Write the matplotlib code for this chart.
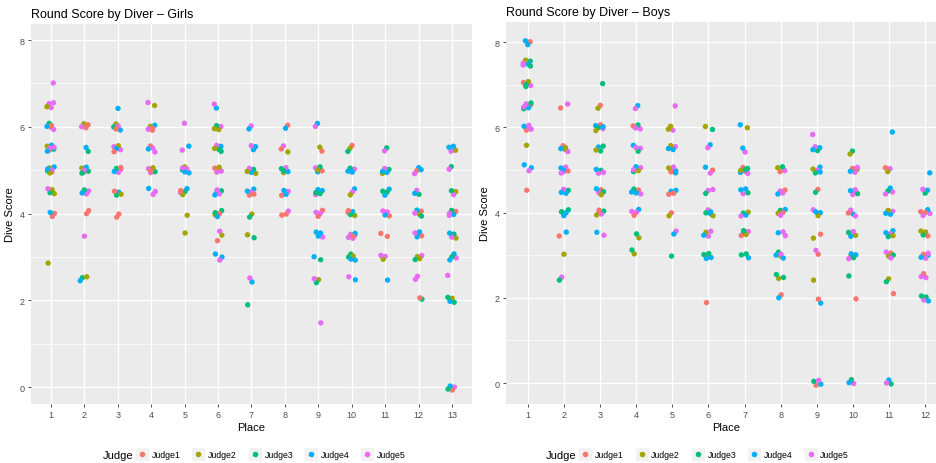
import matplotlib
matplotlib.use("Agg")
import matplotlib.pyplot as plt
from matplotlib.lines import Line2D

plt.rcParams['font.family'] = ['Liberation Sans', 'DejaVu Sans']

judges = ["Judge1", "Judge2", "Judge3", "Judge4", "Judge5"]
judge_colors = ["#F8766D", "#A3A500", "#00BF7D", "#00B0F6", "#E76BF3"]

# place -> list of (score, judges who gave that score)
girls = {
    1: [(7.0, "5"), (6.5, "5525"), (6.0, "13451"), (5.5, "1234545"), (5.0, "1234524"),
        (4.5, "2235"), (4.0, "114"), (2.9, "2")],
    2: [(6.0, "1125"), (5.5, "34"), (5.0, "123453"), (4.5, "5534"), (4.0, "11"),
        (3.55, "5"), (2.5, "342")],
    3: [(6.45, "4"), (6.0, "23451"), (5.5, "55241"), (5.0, "55341"), (4.5, "4312"), (3.95, "11")],
    4: [(6.5, "52"), (6.0, "12541"), (5.5, "1455"), (5.0, "55321"), (4.5, "455")],
    5: [(6.05, "5"), (5.5, "54"), (5.0, "1234545"), (4.5, "54321"), (4.0, "2"), (3.5, "2")],
    6: [(6.45, "45"), (6.0, "5232"), (5.5, "43523"), (5.0, "15152"), (4.5, "44355"),
        (4.0, "23143"), (3.55, "25"), (3.4, "1"), (3.0, "445")],
    7: [(6.0, "54"), (5.5, "445"), (5.0, "123452"), (4.5, "45141"), (3.95, "23"),
        (3.45, "23"), (2.5, "45"), (1.95, "3")],
    8: [(6.0, "14"), (5.5, "512"), (5.0, "123453"), (4.5, "1544"), (4.0, "151")],
    9: [(6.0, "45"), (5.5, "12"), (5.0, "45132"), (4.5, "54343"), (4.0, "1515"),
        (3.5, "5444"), (3.0, "43"), (2.45, "235"), (1.5, "5")],
    10: [(5.5, "123"), (5.0, "5434"), (4.5, "452"), (4.0, "12431"), (3.5, "555541"),
         (3.0, "33424"), (2.5, "54")],
    11: [(5.45, "35"), (5.0, "23454"), (4.5, "4343"), (4.0, "1545"), (3.55, "11"),
         (3.0, "525"), (2.5, "4")],
    12: [(5.0, "4154"), (4.5, "354"), (4.0, "12453"), (3.5, "34514"), (3.0, "2352"),
         (2.5, "55"), (1.95, "3"), (2.05, "1")],
    13: [(5.5, "5424"), (5.1, "3"), (4.95, "5"), (4.5, "253"), (4.0, "51435"),
         (3.5, "2354"), (3.0, "5434"), (2.55, "5"), (2.0, "3243"), (0.0, "5143")],
}

boys = {
    1: [(8.0, "144"), (7.5, "534253"), (7.0, "231523"), (6.5, "314553"), (6.0, "51455"),
        (5.6, "2"), (5.05, "445"), (4.5, "1")],
    2: [(6.5, "15"), (5.5, "21452"), (5.0, "541545"), (4.5, "3454"), (4.0, "3443"),
        (3.5, "14"), (3.05, "2"), (2.42, "53")],
    3: [(7.1, "3"), (6.5, "12"), (6.0, "451324"), (5.5, "3423"), (5.0, "3545"),
        (4.5, "15432"), (4.0, "12351"), (3.55, "45")],
    4: [(6.5, "45"), (6.0, "1535"), (5.5, "4535"), (5.0, "35245"), (4.5, "51434"),
        (4.0, "4515"), (3.45, "23"), (3.05, "23")],
    5: [(6.5, "5"), (6.0, "522"), (5.5, "5424"), (5.0, "451245"), (4.5, "4141"),
        (3.95, "12"), (3.5, "54"), (3.05, "3")],
    6: [(6.0, "23"), (5.55, "45"), (5.0, "415"), (4.5, "535"), (4.0, "45324"),
        (3.5, "5245"), (3.0, "14343"), (1.92, "1")],
    7: [(6.0, "42"), (5.5, "54"), (5.0, "4351253"), (4.5, "5434"), (4.0, "3524"),
        (3.5, "41523"), (3.0, "343")],
    8: [(5.0, "1253"), (4.5, "5415"), (4.0, "32415"), (3.5, "455"), (3.0, "23445"),
        (2.5, "233"), (2.0, "14")],
    9: [(5.9, "5"), (5.5, "4354"), (5.0, "45324"), (4.5, "13"), (4.0, "5424"),
        (3.45, "21"), (3.05, "15"), (2.42, "2"), (1.95, "41"), (0.0, "1345")],
    10: [(5.45, "32"), (5.0, "25145"), (4.5, "15435"), (4.0, "4515"), (3.5, "54325"),
         (3.0, "25434"), (2.55, "3"), (1.92, "1"), (0.0, "534")],
    11: [(5.95, "4"), (5.0, "521"), (4.5, "5435"), (4.0, "5424"), (3.5, "45342"),
         (3.0, "12535"), (2.42, "23"), (2.05, "1"), (0.0, "345")],
    12: [(5.0, "4"), (4.5, "435"), (4.0, "54151"), (3.5, "1232"), (3.0, "45145"),
         (2.5, "515"), (2.0, "4353")],
}


def points(data):
    xs, ys, cs = [], [], []
    k = 0
    for place, rows in data.items():
        for score, who in rows:
            for j in who:
                k += 1
                # deterministic jitter like geom_jitter
                dx = ((k * 0.7548776662) % 1 - 0.5) * 0.26
                dy = ((k * 0.5698402910) % 1 - 0.5) * 0.16
                xs.append(place + dx)
                ys.append(score + dy)
                cs.append(judge_colors[int(j) - 1])
    return xs, ys, cs


def style(ax, n, title, ylim):
    ax.set_facecolor("#EBEBEB")
    for s in ax.spines.values():
        s.set_visible(False)
    ax.set_xlim(0.4, n + 0.6)
    ax.set_ylim(*ylim)
    ax.set_xticks(range(1, n + 1))
    ax.set_yticks([0, 2, 4, 6, 8])
    ax.set_yticks([1, 3, 5, 7], minor=True)
    ax.grid(True, which="major", color="white", lw=1.0)
    ax.grid(True, which="minor", axis="y", color="white", lw=0.5)
    ax.set_axisbelow(True)
    ax.tick_params(which="major", length=2.5, width=0.6, color="#333333",
                   labelsize=6.5, labelcolor="#4D4D4D", pad=2)
    ax.tick_params(which="minor", length=0)
    ax.set_xlabel("Place", fontsize=8, labelpad=2)
    ax.set_ylabel("Dive Score", fontsize=8, labelpad=3)
    ax.set_title(title, fontsize=9, loc="left", pad=5)


def legend(fig, x0, y):
    fig.text(x0, y, "Judge", fontsize=8, va="center", ha="left")
    handles = [Line2D([], [], marker="s", ls="", ms=9, color="#F2F2F2") for _ in judge_colors]
    dots = [Line2D([], [], marker="o", ls="", ms=3, color=c) for c in judge_colors]
    fig.legend(list(zip(handles, dots)), judges, loc="center left",
               bbox_to_anchor=(x0 + 0.036, y),
               ncol=5, frameon=False, fontsize=6.3, handlelength=1.2,
               handletextpad=0.5, columnspacing=1.45, borderpad=0, borderaxespad=0)


fig = plt.figure(figsize=(9.37, 4.64), dpi=100)
ax1 = fig.add_axes([0.0331, 0.1272, 0.4706, 0.8188])
ax2 = fig.add_axes([0.540, 0.1272, 0.4707, 0.8228])

x, y, c = points(girls)
ax1.scatter(x, y, c=c, s=15, linewidths=0, zorder=3)
style(ax1, 13, "Round Score by Diver \u2013 Girls", (-0.39, 8.37))

x, y, c = points(boys)
ax2.scatter(x, y, c=c, s=15, linewidths=0, zorder=3)
style(ax2, 12, "Round Score by Diver \u2013 Boys", (-0.49, 8.47))

legend(fig, 0.110, 0.018)
legend(fig, 0.583, 0.018)

fig.savefig("out.png", dpi=100)
